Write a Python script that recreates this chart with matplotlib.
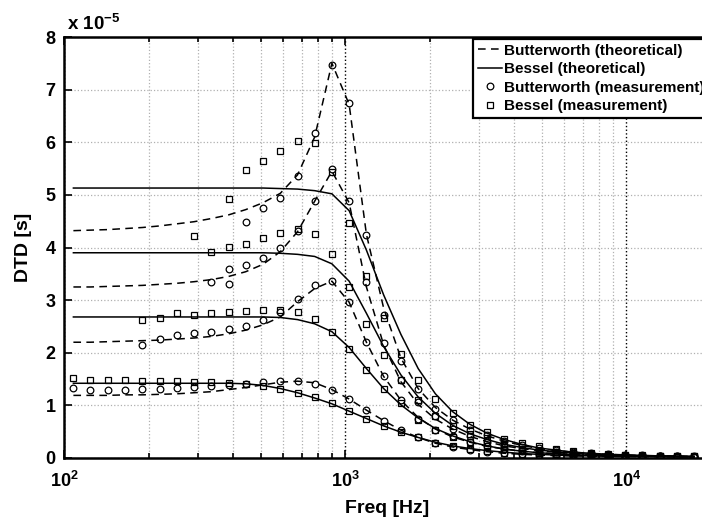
import matplotlib
matplotlib.use("Agg")
import matplotlib.pyplot as plt
import numpy as np
from matplotlib.ticker import FixedLocator, NullFormatter

nan = np.nan

# measurement / evaluation frequencies [Hz]
freq = [108, 124, 143, 165, 190, 219, 252, 290, 334, 385, 443, 510, 588, 677,
        779, 897, 1033, 1190, 1370, 1578, 1818, 2093, 2411, 2777, 3198, 3683,
        4241, 4885, 5626, 6479, 7462, 8594, 9897, 11398, 13127, 15118, 17411]

# DTD values in units of 1e-5 s, four filter settings each
bw_theory = [
    [4.32, 4.33, 4.34, 4.36, 4.38, 4.41, 4.45, 4.49, 4.55, 4.62, 4.72, 4.85, 5.03, 5.38,
     6.10, 7.50, 6.72, 4.25, 2.85, 1.90, 1.32, 0.96, 0.72, 0.55, 0.42, 0.32, 0.24, 0.18,
     0.14, 0.11, 0.085, 0.07, 0.055, 0.045, 0.04, 0.035, 0.03],
    [3.25, 3.25, 3.26, 3.27, 3.28, 3.30, 3.32, 3.35, 3.39, 3.45, 3.54, 3.68, 3.92, 4.30,
     4.88, 5.45, 4.85, 3.25, 2.15, 1.45, 1.02, 0.74, 0.55, 0.41, 0.31, 0.23, 0.18, 0.14,
     0.11, 0.085, 0.065, 0.055, 0.045, 0.04, 0.035, 0.03, 0.025],
    [2.20, 2.20, 2.21, 2.22, 2.23, 2.24, 2.26, 2.28, 2.31, 2.36, 2.43, 2.53, 2.68, 2.97,
     3.22, 3.36, 2.96, 2.20, 1.55, 1.10, 0.77, 0.55, 0.40, 0.30, 0.22, 0.17, 0.13, 0.10,
     0.08, 0.06, 0.05, 0.04, 0.035, 0.03, 0.03, 0.025, 0.02],
    [1.19, 1.19, 1.19, 1.20, 1.20, 1.21, 1.22, 1.24, 1.26, 1.30, 1.34, 1.39, 1.44, 1.46,
     1.43, 1.30, 1.12, 0.91, 0.71, 0.53, 0.39, 0.28, 0.21, 0.16, 0.12, 0.09, 0.07, 0.055,
     0.045, 0.04, 0.035, 0.03, 0.03, 0.025, 0.025, 0.02, 0.02],
]
bs_theory = [
    [5.13, 5.13, 5.13, 5.13, 5.13, 5.13, 5.13, 5.13, 5.13, 5.13, 5.13, 5.13, 5.12, 5.11,
     5.08, 5.02, 4.70, 3.95, 3.10, 2.35, 1.70, 1.22, 0.88, 0.64, 0.47, 0.35, 0.26, 0.19,
     0.15, 0.11, 0.09, 0.07, 0.06, 0.05, 0.04, 0.035, 0.03],
    [3.90, 3.90, 3.90, 3.90, 3.90, 3.90, 3.90, 3.90, 3.90, 3.90, 3.90, 3.90, 3.89, 3.87,
     3.83, 3.69, 3.36, 2.75, 2.12, 1.58, 1.16, 0.85, 0.62, 0.46, 0.35, 0.26, 0.20, 0.15,
     0.12, 0.09, 0.07, 0.06, 0.05, 0.04, 0.035, 0.03, 0.03],
    [2.68, 2.68, 2.68, 2.68, 2.68, 2.68, 2.68, 2.68, 2.68, 2.68, 2.68, 2.68, 2.67, 2.63,
     2.55, 2.40, 2.10, 1.70, 1.32, 1.01, 0.76, 0.56, 0.42, 0.31, 0.23, 0.17, 0.13, 0.10,
     0.08, 0.06, 0.05, 0.04, 0.035, 0.03, 0.03, 0.025, 0.025],
    [1.42, 1.42, 1.42, 1.42, 1.42, 1.42, 1.42, 1.42, 1.42, 1.42, 1.41, 1.38, 1.32, 1.24,
     1.14, 1.03, 0.89, 0.75, 0.61, 0.49, 0.39, 0.30, 0.23, 0.18, 0.14, 0.11, 0.085, 0.07,
     0.055, 0.045, 0.04, 0.035, 0.03, 0.03, 0.025, 0.025, 0.02],
]
bw_meas = [
    [nan, nan, nan, nan, nan, nan, nan, nan, nan, 3.59, 4.48, 4.76, 4.94, 5.35,
     6.17, 7.47, 6.74, 4.23, 2.72, 1.85, 1.31, 0.94, 0.73, 0.53, 0.43, 0.33, 0.25, 0.19,
     0.15, 0.12, 0.09, 0.07, 0.06, 0.05, 0.04, 0.035, 0.03],
    [nan, nan, nan, nan, nan, nan, nan, nan, 3.34, 3.31, 3.67, 3.80, 3.99, 4.32,
     4.89, 5.49, 4.88, 3.34, 2.18, 1.48, 1.06, 0.79, 0.56, 0.42, 0.31, 0.23, 0.18, 0.14,
     0.11, 0.085, 0.065, 0.055, 0.045, 0.04, 0.035, 0.03, 0.025],
    [nan, nan, nan, nan, 2.14, 2.27, 2.33, 2.37, 2.40, 2.45, 2.51, 2.62, 2.78, 3.02,
     3.29, 3.37, 2.96, 2.21, 1.55, 1.10, 0.75, 0.54, 0.41, 0.30, 0.22, 0.17, 0.13, 0.10,
     0.08, 0.06, 0.05, 0.04, 0.035, 0.03, 0.03, 0.025, 0.02],
    [1.33, 1.29, 1.29, 1.30, 1.31, 1.31, 1.33, 1.34, 1.36, 1.39, 1.41, 1.45, 1.47, 1.46,
     1.40, 1.29, 1.12, 0.91, 0.71, 0.53, 0.39, 0.28, 0.21, 0.16, 0.12, 0.09, 0.07, 0.055,
     0.045, 0.04, 0.035, 0.03, 0.03, 0.025, 0.025, 0.02, 0.02],
]
bs_meas = [
    [nan, nan, nan, nan, nan, nan, nan, nan, nan, 4.93, 5.48, 5.64, 5.84, 6.03,
     5.98, 5.44, 4.47, 3.46, 2.66, 1.98, 1.48, 1.12, 0.86, 0.63, 0.49, 0.36, 0.28, 0.22,
     0.17, 0.13, 0.10, 0.08, 0.065, 0.055, 0.045, 0.04, 0.035],
    [nan, nan, nan, nan, nan, nan, nan, 4.21, 3.92, 4.01, 4.06, 4.18, 4.28, 4.35,
     4.25, 3.87, 3.25, 2.55, 1.95, 1.48, 1.10, 0.80, 0.60, 0.45, 0.34, 0.26, 0.20, 0.15,
     0.12, 0.09, 0.07, 0.06, 0.05, 0.04, 0.035, 0.03, 0.03],
    [nan, nan, nan, nan, 2.63, 2.66, 2.76, 2.72, 2.75, 2.78, 2.80, 2.82, 2.81, 2.78,
     2.65, 2.40, 2.07, 1.67, 1.31, 1.05, 0.72, 0.53, 0.40, 0.30, 0.22, 0.17, 0.13, 0.10,
     0.08, 0.06, 0.05, 0.04, 0.035, 0.03, 0.03, 0.025, 0.02],
    [1.52, 1.48, 1.48, 1.48, 1.47, 1.46, 1.46, 1.45, 1.44, 1.42, 1.40, 1.37, 1.31, 1.24,
     1.15, 1.04, 0.90, 0.75, 0.61, 0.49, 0.39, 0.29, 0.22, 0.17, 0.13, 0.10, 0.08, 0.06,
     0.05, 0.04, 0.035, 0.03, 0.03, 0.025, 0.025, 0.02, 0.02],
]

labels = ["Butterworth (theoretical)", "Bessel (theoretical)",
          "Butterworth (measurement)", "Bessel (measurement)"]

plt.rcParams["font.family"] = ["Liberation Sans", "DejaVu Sans"]
plt.rcParams["font.weight"] = "bold"
plt.rcParams["mathtext.default"] = "regular"

fig = plt.figure(figsize=(7.02, 5.20), dpi=100)
# axes run past the right edge like the cropped original
ax = fig.add_axes([64 / 702, 62 / 520, 647 / 702, 421 / 520])

dash = (0, (5, 3.5))
for i in range(4):
    ax.plot(freq, bw_theory[i], color="k", lw=1.1, ls=dash,
            label=labels[0] if i == 0 else None)
    ax.plot(freq, bs_theory[i], color="k", lw=1.1,
            label=labels[1] if i == 0 else None)
for i in range(4):
    ax.plot(freq, bw_meas[i], ls="none", marker="o", ms=4.8, mfc="none",
            mec="k", mew=0.9, label=labels[2] if i == 0 else None)
    ax.plot(freq, bs_meas[i], ls="none", marker="s", ms=3.8, mfc="none",
            mec="k", mew=0.9, label=labels[3] if i == 0 else None)

ax.set_xscale("log")
ax.set_xlim(100, 2e4)
ax.set_ylim(0, 8)
ax.set_yticks(range(9))
ax.xaxis.set_major_locator(FixedLocator([1e2, 1e3, 1e4]))
ax.xaxis.set_minor_locator(FixedLocator(
    [m * d for d in (1e2, 1e3, 1e4) for m in range(2, 10) if m * d < 2e4]))
ax.xaxis.set_minor_formatter(NullFormatter())

ax.grid(which="major", axis="x", ls=":", color="k", lw=1.0)
ax.grid(which="minor", axis="x", ls=":", color="#b0b0b0", lw=0.9)
ax.grid(which="major", axis="y", ls=":", color="#b0b0b0", lw=0.9)

ax.tick_params(which="both", direction="in", top=True, right=True, width=1.2)
ax.tick_params(which="major", length=6, labelsize=13, pad=6)
ax.tick_params(axis="x", which="major", pad=9.5)
ax.tick_params(which="minor", length=3.5)
for sp in ax.spines.values():
    sp.set_linewidth(1.8)

ax.set_xlabel("Freq [Hz]", fontsize=14, fontweight="bold", labelpad=6)
ax.set_ylabel("DTD [s]", fontsize=14, fontweight="bold", labelpad=10)
ax.text(0.005, 1.008, r"x 10$^{-5}$", transform=ax.transAxes, fontsize=13.5,
        fontweight="bold", ha="left", va="bottom")

leg = ax.legend(loc="upper left", bbox_to_anchor=(473 / 702, 1 - 39 / 520),
                bbox_transform=fig.transFigure, borderaxespad=0, fontsize=11,
                handlelength=1.6, handletextpad=0.12, labelspacing=0.3,
                borderpad=0.3, fancybox=False, framealpha=1, numpoints=1)
leg.get_frame().set_edgecolor("k")
leg.get_frame().set_linewidth(1.6)
for t in leg.get_texts():
    t.set_fontweight("bold")

fig.savefig("out.png", dpi=100)
